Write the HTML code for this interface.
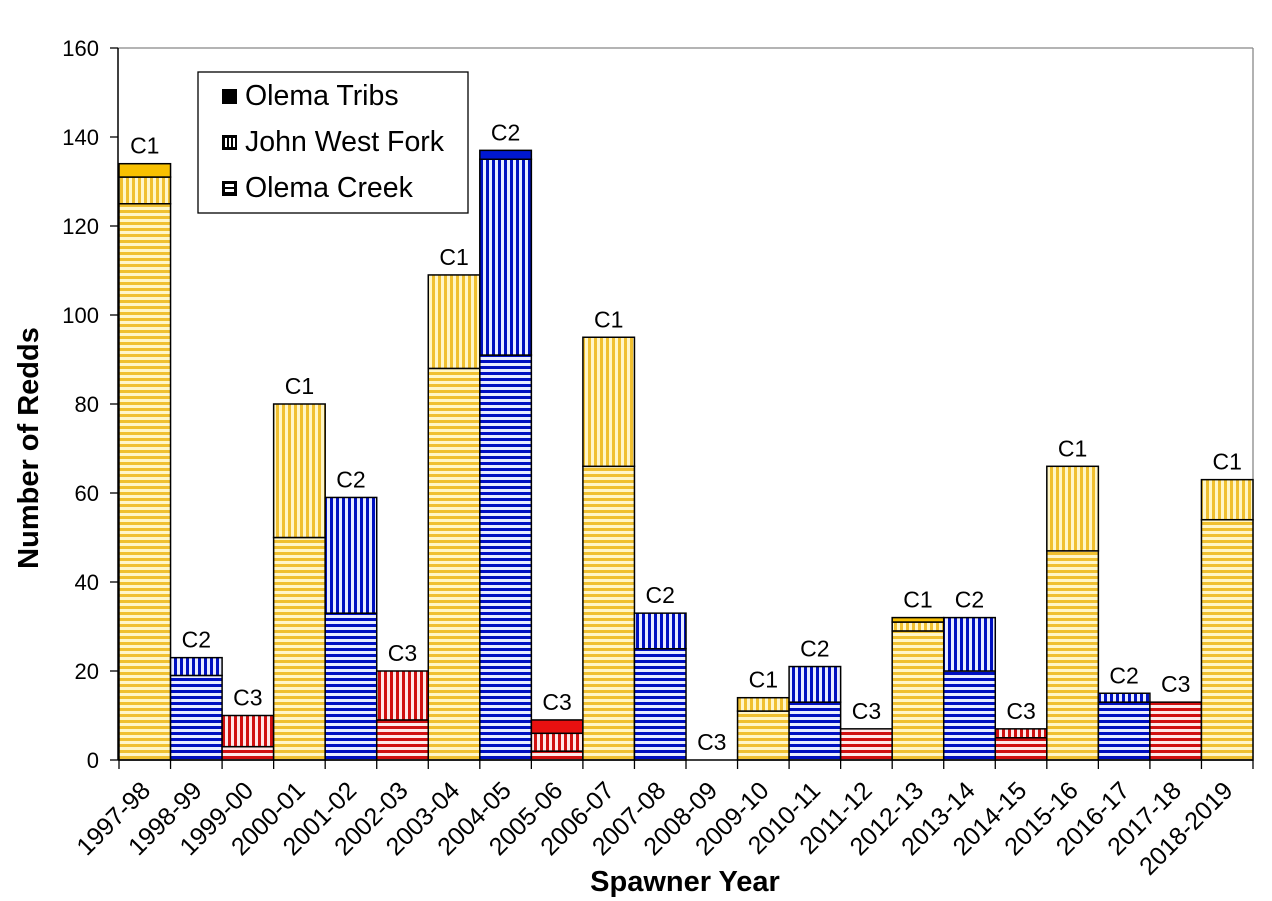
<!DOCTYPE html>
<html><head><meta charset="utf-8"><style>html,body{margin:0;padding:0;background:#fff}svg{display:block}text{font-family:"Liberation Sans",Arial,sans-serif}</style></head>
<body>
<svg id="s" width="1272" height="901" viewBox="0 0 1272 901" xmlns="http://www.w3.org/2000/svg">
<defs>
<pattern id="hy" width="6" height="6" patternUnits="userSpaceOnUse"><rect width="6" height="6" fill="#fff6c8"/><rect width="6" height="3" fill="#f0c030"/></pattern>
<pattern id="vy" width="6" height="6" patternUnits="userSpaceOnUse"><rect width="6" height="6" fill="#fff6c8"/><rect width="3" height="6" fill="#f0c030"/></pattern>
<pattern id="hb" width="6" height="6" patternUnits="userSpaceOnUse"><rect width="6" height="6" fill="#e8ecff"/><rect width="6" height="3" fill="#0010c0"/></pattern>
<pattern id="vb" width="6" height="6" patternUnits="userSpaceOnUse"><rect width="6" height="6" fill="#e8ecff"/><rect width="3" height="6" fill="#0010c0"/></pattern>
<pattern id="hr" width="6" height="6" patternUnits="userSpaceOnUse"><rect width="6" height="6" fill="#ffe8e8"/><rect width="6" height="3" fill="#d01010"/></pattern>
<pattern id="vr" width="6" height="6" patternUnits="userSpaceOnUse"><rect width="6" height="6" fill="#ffe8e8"/><rect width="3" height="6" fill="#d01010"/></pattern>
</defs>
<g id="g"></g>
</svg>
<script>
var g=document.getElementById('g'),h='';
var X0=119,W=(1253-119)/22,Y0=760,K=4.45;
function y(v){return Y0-v*K}
h+='<line x1="118" y1="48" x2="1253" y2="48" stroke="#888" stroke-width="1.3"/>';
h+='<line x1="1253" y1="48" x2="1253" y2="760" stroke="#888" stroke-width="1.3"/>';
h+='<line x1="118" y1="48" x2="118" y2="760" stroke="#000" stroke-width="1.5"/>';
for(var v=0;v<=160;v+=20){h+='<line x1="110" y1="'+y(v)+'" x2="118" y2="'+y(v)+'" stroke="#000" stroke-width="1.3"/>';
h+='<text x="99" y="'+(y(v)+8)+'" font-size="22" text-anchor="end">'+v+'</text>';}
var d=[["1997-98","y",125,131,134,"C1"],["1998-99","b",19,23,23,"C2"],["1999-00","r",3,10,10,"C3"],["2000-01","y",50,80,80,"C1"],["2001-02","b",33,59,59,"C2"],["2002-03","r",9,20,20,"C3"],["2003-04","y",88,109,109,"C1"],["2004-05","b",91,135,137,"C2"],["2005-06","r",2,6,9,"C3"],["2006-07","y",66,95,95,"C1"],["2007-08","b",25,33,33,"C2"],["2008-09","r",0,0,0,"C3"],["2009-10","y",11,14,14,"C1"],["2010-11","b",13,21,21,"C2"],["2011-12","r",7,7,7,"C3"],["2012-13","y",29,31,32,"C1"],["2013-14","b",20,32,32,"C2"],["2014-15","r",5,7,7,"C3"],["2015-16","y",47,66,66,"C1"],["2016-17","b",13,15,15,"C2"],["2017-18","r",13,13,13,"C3"],["2018-2019","y",54,63,63,"C1"]];
var solid={y:"#f8c000",b:"#0018d0",r:"#e81010"};
d.forEach(function(r,i){var x=X0+i*W,c=r[1],cx=x+W/2;
function rc(a,b,f){if(b>a)h+='<rect x="'+x+'" y="'+y(b)+'" width="'+W+'" height="'+(b-a)*K+'" fill="'+f+'" stroke="#000" stroke-width="1.5"/>';}
rc(0,r[2],'url(#h'+c+')');rc(r[2],r[3],'url(#v'+c+')');rc(r[3],r[4],solid[c]);
h+='<text x="'+cx+'" y="'+(y(r[4])-10)+'" font-size="23" text-anchor="middle">'+r[5]+'</text>';
h+='<line x1="'+x+'" y1="760" x2="'+x+'" y2="769" stroke="#000" stroke-width="1.3"/>';
h+='<text transform="translate('+(cx+7)+',792) rotate(-45)" font-size="25" text-anchor="end">'+r[0]+'</text>';});
h+='<line x1="1253" y1="760" x2="1253" y2="769" stroke="#000" stroke-width="1.3"/>';
h+='<line x1="118" y1="760" x2="1253" y2="760" stroke="#000" stroke-width="1.5"/>';
h+='<rect x="198" y="72" width="270" height="141" fill="#fff" stroke="#000" stroke-width="1.3"/>';
h+='<rect x="222" y="89" width="15" height="15" fill="#000"/><text x="245" y="105" font-size="28.5">Olema Tribs</text>';
h+='<rect x="222" y="135" width="15" height="15" fill="#000"/><rect x="225" y="138" width="2" height="9" fill="#fff"/><rect x="229" y="138" width="2" height="9" fill="#fff"/><rect x="233" y="138" width="2" height="9" fill="#fff"/><text x="245" y="151" font-size="28.5">John West Fork</text>';
h+='<rect x="222" y="181" width="15" height="15" fill="#000"/><rect x="225" y="184" width="9" height="3" fill="#fff"/><rect x="225" y="189" width="9" height="3" fill="#fff"/><text x="245" y="197" font-size="28.5">Olema Creek</text>';
h+='<text x="685" y="891" font-size="29" font-weight="bold" text-anchor="middle">Spawner Year</text>';
h+='<text transform="translate(38,448) rotate(-90)" font-size="29" font-weight="bold" text-anchor="middle">Number of Redds</text>';
g.innerHTML=h;
</script>
</body></html>
